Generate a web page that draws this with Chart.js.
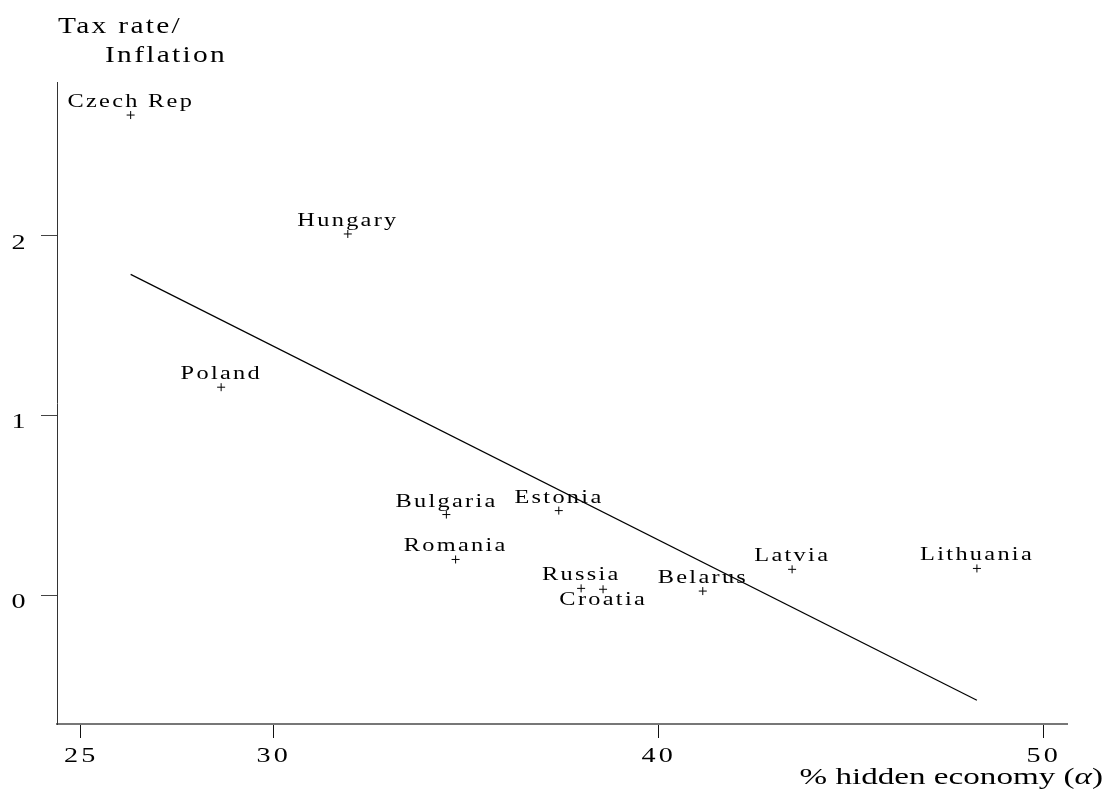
<!DOCTYPE html>
<html>
<head>
<meta charset="utf-8">
<script src="https://cdn.jsdelivr.net/npm/chart.js@4/dist/chart.umd.min.js"></script>
<style>
  html, body { margin: 0; padding: 0; background: #fff; }
  canvas { display: block; }
</style>
</head>
<body>
<canvas id="chart" width="1108" height="796"></canvas>
<script>
// Countries and their values
const countries = ['Czech Rep', 'Hungary', 'Poland', 'Bulgaria', 'Estonia', 'Romania',
                   'Russia', 'Croatia', 'Belarus', 'Latvia', 'Lithuania'];
const hiddenEconomy = [26.30, 31.94, 28.65, 34.50, 37.42, 34.74, 38.00, 38.57, 41.16, 43.48, 48.28];
const taxInflation  = [2.672, 2.010, 1.157, 0.448, 0.470, 0.198, 0.037, 0.032, 0.022, 0.143, 0.148];

// Fitted line endpoints
const fitX = [26.30, 48.28];
const fitY = [1.785, -0.586];

// Axis ticks and titles
const xTicks = [25, 30, 40, 50];
const yTicks = [0, 1, 2];
const yTitle = ['Tax rate/', 'Inflation'];
const xTitle = ['% hidden economy (', 'α', ')'];

// Labels drawn underneath their marker instead of above
const labelsBelow = new Set(['Croatia']);

const SERIF = '"Liberation Serif", "Times New Roman", Times, serif';

// Draws text with a horizontal stretch and extra letter spacing
function drawText(ctx, text, x, y, o) {
  ctx.save();
  ctx.font = (o.italic ? 'italic ' : '') + o.size + 'px ' + SERIF;
  const sp = o.spacing || 0;
  ctx.letterSpacing = sp + 'px';
  ctx.fillStyle = '#000';
  ctx.textBaseline = 'alphabetic';
  ctx.textAlign = 'left';
  const sx = o.stretch || 1;
  const w = (ctx.measureText(text).width - sp) * sx;
  let left = x;
  if (o.align === 'center') left = x - w / 2;
  else if (o.align === 'right') left = x - w;
  ctx.translate(left, y);
  ctx.scale(sx, 1);
  ctx.fillText(text, 0, 0);
  ctx.restore();
  return w;
}

function measureText(ctx, text, o) {
  ctx.save();
  ctx.font = (o.italic ? 'italic ' : '') + o.size + 'px ' + SERIF;
  ctx.letterSpacing = (o.spacing || 0) + 'px';
  const w = ctx.measureText(text).width * (o.stretch || 1);
  ctx.restore();
  return w;
}

const labelFont = { size: 19, stretch: 1.28, spacing: 1.8 };
const tickFont  = { size: 22, stretch: 1.28, spacing: 2.5 };
const yTitleFont = { size: 23, stretch: 1.28, spacing: 1.8 };
const xTitleFont = { size: 24, stretch: 1.38, spacing: 0 };

const textPlugin = {
  id: 'chartText',
  afterDatasetsDraw(chart) {
    const { ctx, chartArea, scales: { x, y } } = chart;

    // point labels
    countries.forEach((name, i) => {
      const px = x.getPixelForValue(hiddenEconomy[i]);
      const py = y.getPixelForValue(taxInflation[i]);
      const by = labelsBelow.has(name) ? py + 16 : py - 8;
      drawText(ctx, name, px - 1, by, { ...labelFont, align: 'center' });
    });

    // x tick labels
    xTicks.forEach(v => {
      drawText(ctx, String(v), x.getPixelForValue(v) - 1, chartArea.bottom + 38,
               { ...tickFont, align: 'center' });
    });

    // y tick labels
    yTicks.forEach(v => {
      drawText(ctx, String(v), chartArea.left - 38.5, y.getPixelForValue(v) + 13,
               { ...tickFont, align: 'center' });
    });

    // y-axis title, two lines at the top left
    drawText(ctx, yTitle[0], chartArea.left + 1, chartArea.top - 49, yTitleFont);
    drawText(ctx, yTitle[1], chartArea.left + 48, chartArea.top - 20, yTitleFont);

    // x-axis title, right aligned, with an italic alpha
    const parts = xTitle.map((t, i) => ({ t, o: { ...xTitleFont, italic: i === 1 } }));
    const total = parts.reduce((s, p) => s + measureText(ctx, p.t, p.o), 0);
    let cx = chartArea.right + 36 - total;
    const base = chartArea.bottom + 60;
    parts.forEach(p => {
      drawText(ctx, p.t, cx, base, p.o);
      cx += measureText(ctx, p.t, p.o);
    });
  }
};

new Chart(document.getElementById('chart'), {
  type: 'scatter',
  data: {
    datasets: [
      {
        data: hiddenEconomy.map((v, i) => ({ x: v, y: taxInflation[i] })),
        pointStyle: 'cross',
        pointRadius: 4,
        pointHoverRadius: 4,
        pointBorderWidth: 1,
        pointBorderColor: '#000',
        borderColor: '#000',
        clip: false
      },
      {
        data: fitX.map((v, i) => ({ x: v, y: fitY[i] })),
        showLine: true,
        borderColor: '#000',
        borderWidth: 1.2,
        pointRadius: 0,
        pointHoverRadius: 0,
        fill: false
      }
    ]
  },
  options: {
    responsive: false,
    animation: false,
    events: [],
    layout: { padding: { left: 41, right: 41, top: 82, bottom: 58 } },
    plugins: { legend: { display: false }, tooltip: { enabled: false } },
    scales: {
      x: {
        type: 'linear',
        min: 24.387,
        max: 50.62,
        afterBuildTicks: s => { s.ticks = xTicks.map(v => ({ value: v })); },
        afterFit: s => { s.height = 14; },
        ticks: { display: false },
        grid: { drawOnChartArea: false, drawTicks: true, tickLength: 14, color: '#111', lineWidth: 1 },
        border: { display: true, color: '#777', width: 2 }
      },
      y: {
        type: 'linear',
        min: -0.718,
        max: 2.856,
        afterBuildTicks: s => { s.ticks = yTicks.map(v => ({ value: v })); },
        afterFit: s => { s.width = 16; },
        ticks: { display: false },
        grid: { drawOnChartArea: false, drawTicks: true, tickLength: 16, color: '#444', lineWidth: 1 },
        border: { display: true, color: '#333', width: 1 }
      }
    }
  },
  plugins: [textPlugin]
});
</script>
</body>
</html>
